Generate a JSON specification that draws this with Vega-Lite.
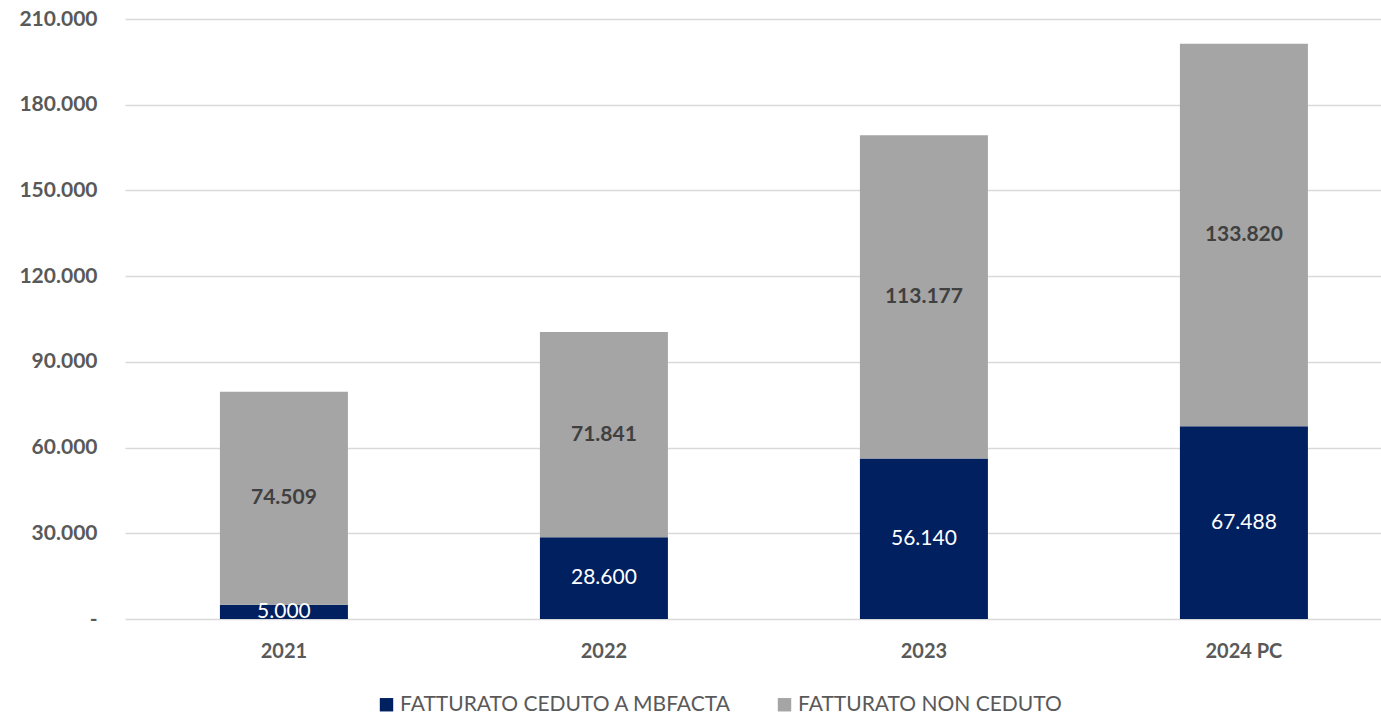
{
  "$schema": "https://vega.github.io/schema/vega-lite/v6.json",
  "autosize": "none",
  "width": 1256,
  "height": 600,
  "padding": {"left": 125, "top": 19, "right": 0, "bottom": 95},
  "background": "white",
  "config": {
    "locale": {"number": {"decimal": ",", "thousands": ".", "grouping": [3], "currency": ["€", ""]}},
    "view": {"stroke": null},
    "font": "Lato"
  },
  "data": {
    "values": [
      {"anno": "2021", "serie": "FATTURATO CEDUTO A MBFACTA", "ord": 1, "valore": 5000},
      {"anno": "2021", "serie": "FATTURATO NON CEDUTO", "ord": 2, "valore": 74509},
      {"anno": "2022", "serie": "FATTURATO CEDUTO A MBFACTA", "ord": 1, "valore": 28600},
      {"anno": "2022", "serie": "FATTURATO NON CEDUTO", "ord": 2, "valore": 71841},
      {"anno": "2023", "serie": "FATTURATO CEDUTO A MBFACTA", "ord": 1, "valore": 56140},
      {"anno": "2023", "serie": "FATTURATO NON CEDUTO", "ord": 2, "valore": 113177},
      {"anno": "2024 PC", "serie": "FATTURATO CEDUTO A MBFACTA", "ord": 1, "valore": 67488},
      {"anno": "2024 PC", "serie": "FATTURATO NON CEDUTO", "ord": 2, "valore": 133820}
    ]
  },
  "transform": [
    {"stack": "valore", "groupby": ["anno"], "sort": [{"field": "ord"}], "as": ["v0", "v1"]},
    {"calculate": "(datum.v0 + datum.v1) / 2", "as": "mid"}
  ],
  "encoding": {
    "x": {
      "field": "anno", "type": "nominal", "sort": ["2021", "2022", "2023", "2024 PC"],
      "scale": {"paddingInner": 0.6, "paddingOuter": 0.2625, "align": 0.565},
      "axis": {"title": null, "labelAngle": 0, "domain": false, "ticks": false, "labelPadding": 22,
               "labelFontSize": 20, "labelFontWeight": "bold", "labelColor": "#595959", "labelFont": "Lato"}
    }
  },
  "layer": [
    {
      "mark": {"type": "bar"},
      "encoding": {
        "y": {"field": "v0", "type": "quantitative",
              "scale": {"domain": [0, 210000], "nice": false},
              "axis": {"title": null, "values": [0, 30000, 60000, 90000, 120000, 150000, 180000, 210000],
                       "labelExpr": "datum.value === 0 ? '-' : replace(format(datum.value, ',.0f'), ',', '.')",
                       "domain": false, "ticks": false, "labelPadding": 28, "gridColor": "#D9D9D9", "gridWidth": 1.3,
                       "labelFontSize": 21, "labelFontWeight": "bold", "labelColor": "#595959", "labelFont": "Lato"}},
        "y2": {"field": "v1"},
        "color": {"field": "serie", "type": "nominal",
                  "scale": {"domain": ["FATTURATO CEDUTO A MBFACTA", "FATTURATO NON CEDUTO"], "range": ["#002060", "#A5A5A5"]},
                  "legend": {"title": null, "orient": "none", "direction": "horizontal", "legendX": 251, "legendY": 675,
                             "symbolType": "square", "symbolSize": 180, "symbolStrokeWidth": 0, "symbolOpacity": 1,
                             "labelLimit": 0,
                             "labelFontSize": 21, "labelColor": "#595959", "labelFont": "Lato", "labelOffset": 3, "columnPadding": 42}}
      }
    },
    {
      "transform": [{"filter": "datum.ord === 1"}],
      "mark": {"type": "text", "fontSize": 21, "color": "white", "font": "Lato", "baseline": "middle"},
      "encoding": {
        "y": {"field": "mid", "type": "quantitative"},
        "text": {"field": "valore", "type": "quantitative", "format": ",.0f"}
      }
    },
    {
      "transform": [{"filter": "datum.ord === 2"}],
      "mark": {"type": "text", "fontSize": 21, "fontWeight": "bold", "color": "#404040", "font": "Lato", "baseline": "middle"},
      "encoding": {
        "y": {"field": "mid", "type": "quantitative"},
        "text": {"field": "valore", "type": "quantitative", "format": ",.0f"}
      }
    }
  ]
}
